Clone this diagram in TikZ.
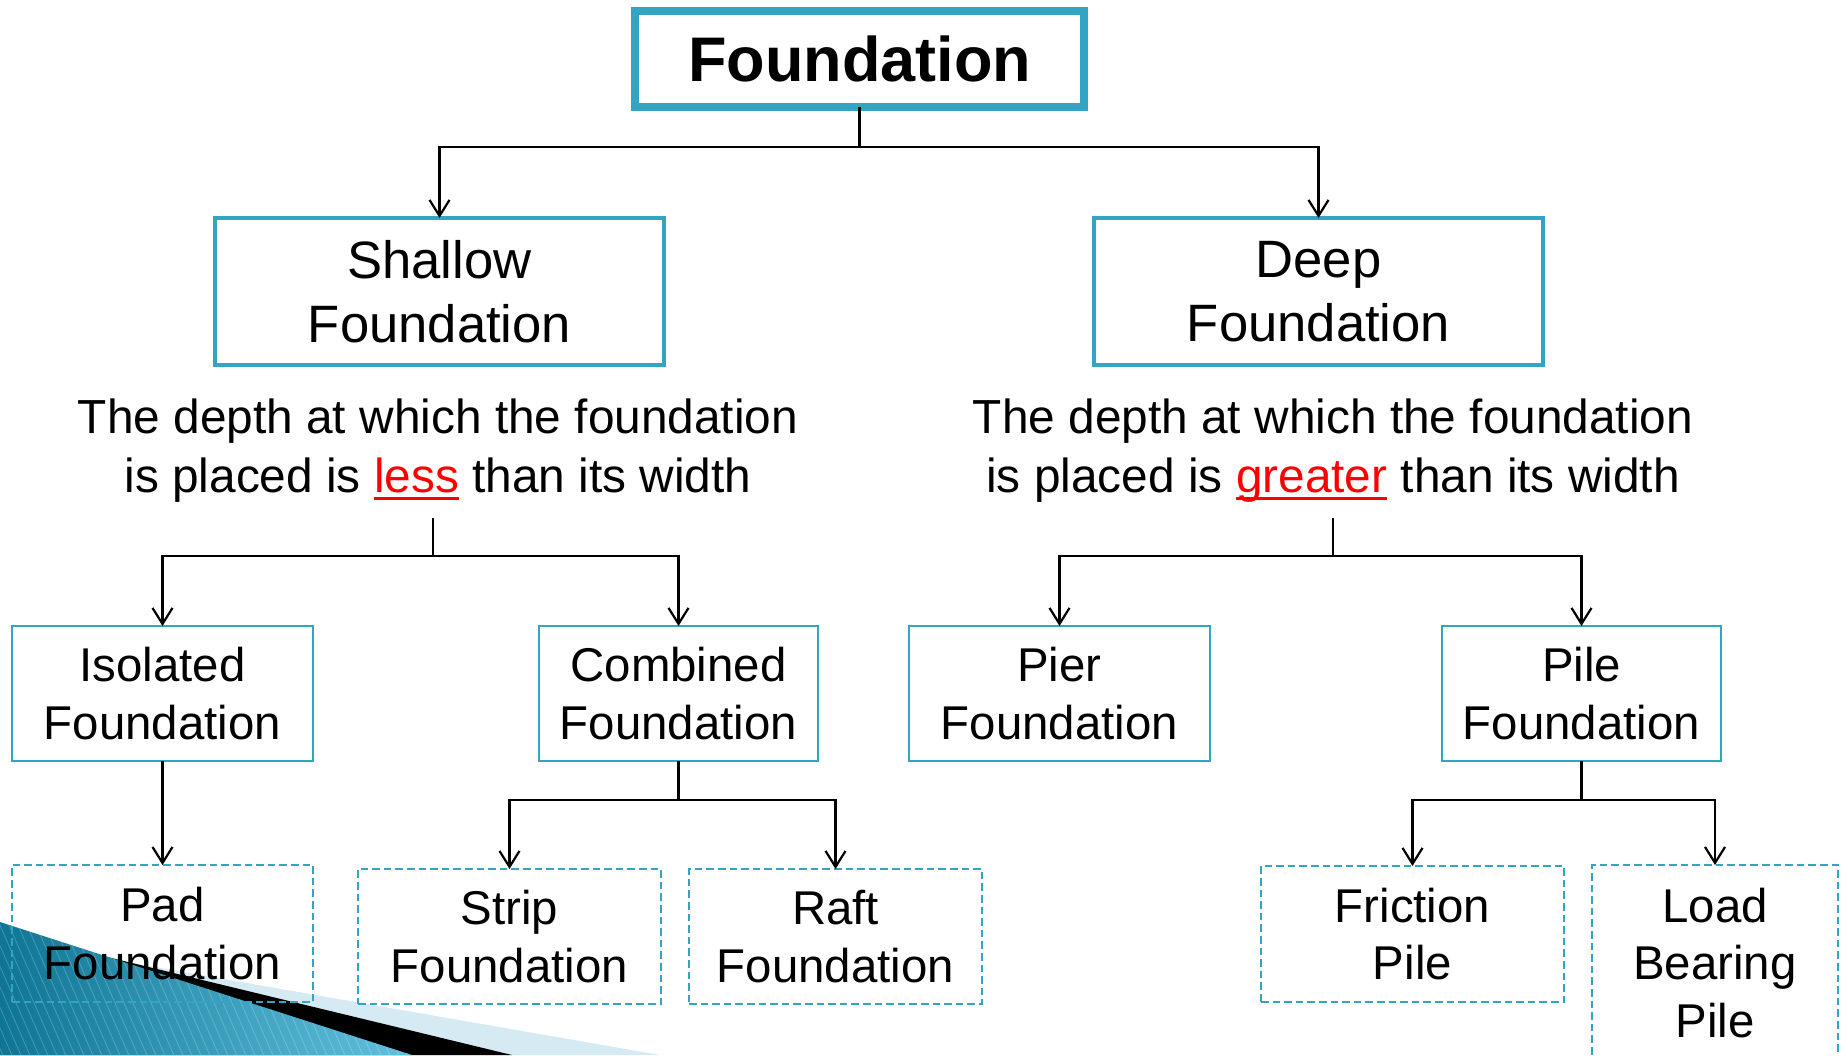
\documentclass[tikz,border=0pt]{standalone}
\usepackage{fontspec}
\setmainfont{Liberation Sans}
\usetikzlibrary{arrows.meta,calc}
\definecolor{boxblue}{HTML}{31A5C3}
\definecolor{decodark}{HTML}{0F7594}
\definecolor{decolight}{HTML}{62C3E0}
\definecolor{decopale}{HTML}{D5EAF2}
\newcommand\redul[1]{{\color{red}\setbox0\hbox{#1}\rlap{\rule[-3.8pt]{\wd0}{1.6pt}}\box0}}
\newcommand\fsTop{\fontsize{31.5}{38}\selectfont\bfseries}
\newcommand\fsMid{\fontsize{26.3}{32.3}\selectfont}
\newcommand\fsDesc{\fontsize{23.9}{29.5}\selectfont}
\newcommand\fsLow{\fontsize{23.7}{28.75}\selectfont}
\begin{document}
\begin{tikzpicture}[x=0.5pt,y=-0.5pt,
  topbox/.style={draw=boxblue, line width=4pt, inner sep=0pt, outer sep=0pt, align=center, font=\fsTop},
  midbox/.style={draw=boxblue, line width=1.8pt, inner sep=0pt, outer sep=0pt, align=center, font=\fsMid, minimum width=224.5pt, minimum height=73.5pt},
  lowbox/.style={draw=boxblue, line width=1pt, inner sep=0pt, outer sep=0pt, align=center, font=\fsLow, minimum width=150.5pt, minimum height=67.5pt},
  dashbox/.style={draw=boxblue, line width=1.1pt, dash pattern=on 3.8pt off 2pt, inner sep=0pt, outer sep=0pt, align=center, font=\fsLow},
  desc/.style={inner sep=0pt, align=center, font=\fsDesc},
  conn/.style={line width=1.1pt, draw=black},
  arr/.style={conn, -{Straight Barb[length=8pt,width=10pt,line width=1.1pt]}}
]
\useasboundingbox (0,0) rectangle (1841,1055);
% decoration bottom left
\fill[decopale] (0,940) -- (660,1055) -- (0,1055) -- cycle;
\fill[black] (0,931) -- (512,1055) -- (0,1055) -- cycle;
\begin{scope}
  \clip (0,922) -- (412,1055) -- (0,1055) -- cycle;
  \shade[left color=decodark, right color=decolight] (0,900) rectangle (420,1055);
  \foreach \sx in {-200,-191,...,420} {
    \draw[white, opacity=0.18, line width=0.5pt] (\sx,900) -- ($(\sx,900)+(70,160)$);
  }
\end{scope}
% nodes
\node[topbox, minimum width=224.5pt, minimum height=48pt] (top) at (859.5,59) {Foundation};
\node[midbox] (shallow) at (439.5,291.5) {Shallow\\Foundation};
\node[midbox] (deep) at (1318.5,291.5) {Deep\\Foundation};
\node[desc] (descS) at (438,451) {The depth at which the foundation\\is placed is \redul{less} than its width};
\node[desc] (descD) at (1333,451) {The depth at which the foundation\\is placed is \redul{greater} than its width};
\node[lowbox] (iso) at (162.5,693.5) {Isolated\\Foundation};
\node[lowbox, minimum width=139.5pt] (comb) at (678.5,693.5) {Combined\\Foundation};
\node[lowbox] (pier) at (1059.5,693.5) {Pier\\Foundation};
\node[lowbox, minimum width=139.5pt] (pile) at (1581.5,693.5) {Pile\\Foundation};
\node[dashbox, minimum width=150.5pt, minimum height=68.5pt] (pad) at (162.5,933.5) {Pad\\Foundation};
\node[dashbox, minimum width=151.5pt, minimum height=67.5pt] (strip) at (509.5,936.5) {Strip\\Foundation};
\node[dashbox, minimum width=146.5pt, minimum height=67.5pt] (raft) at (835.5,936.5) {Raft\\Foundation};
\node[dashbox, minimum width=151.5pt, minimum height=68pt] (fric) at (1412.5,934) {Friction\\Pile};
\node[dashbox, minimum width=123pt, minimum height=98pt] (load) at (1715,963) {Load\\Bearing\\Pile};
% connectors
\coordinate (jT) at (860,147);
\draw[conn] (top.south) -- (top.south |- jT);
\draw[arr] (top.south |- jT) -| (shallow.north);
\draw[arr] (top.south |- jT) -| (deep.north);
\coordinate (sS) at (433,518);
\coordinate (jS) at (433,556);
\draw[conn] (sS) -- (jS);
\draw[arr] (jS) -| (iso.north);
\draw[arr] (jS) -| (comb.north);
\coordinate (sD) at (1333,518);
\coordinate (jD) at (1333,556);
\draw[conn] (sD) -- (jD);
\draw[arr] (jD) -| (pier.north);
\draw[arr] (jD) -| (pile.north);
\draw[arr] (iso.south) -- (pad.north);
\coordinate (jC) at (679,800);
\draw[conn] (comb.south) -- (comb.south |- jC);
\draw[arr] (comb.south |- jC) -| (strip.north);
\draw[arr] (comb.south |- jC) -| (raft.north);
\coordinate (jP) at (1582,800);
\draw[conn] (pile.south) -- (pile.south |- jP);
\draw[arr] (pile.south |- jP) -| (fric.north);
\draw[arr] (pile.south |- jP) -| (load.north);
\end{tikzpicture}
\end{document}
